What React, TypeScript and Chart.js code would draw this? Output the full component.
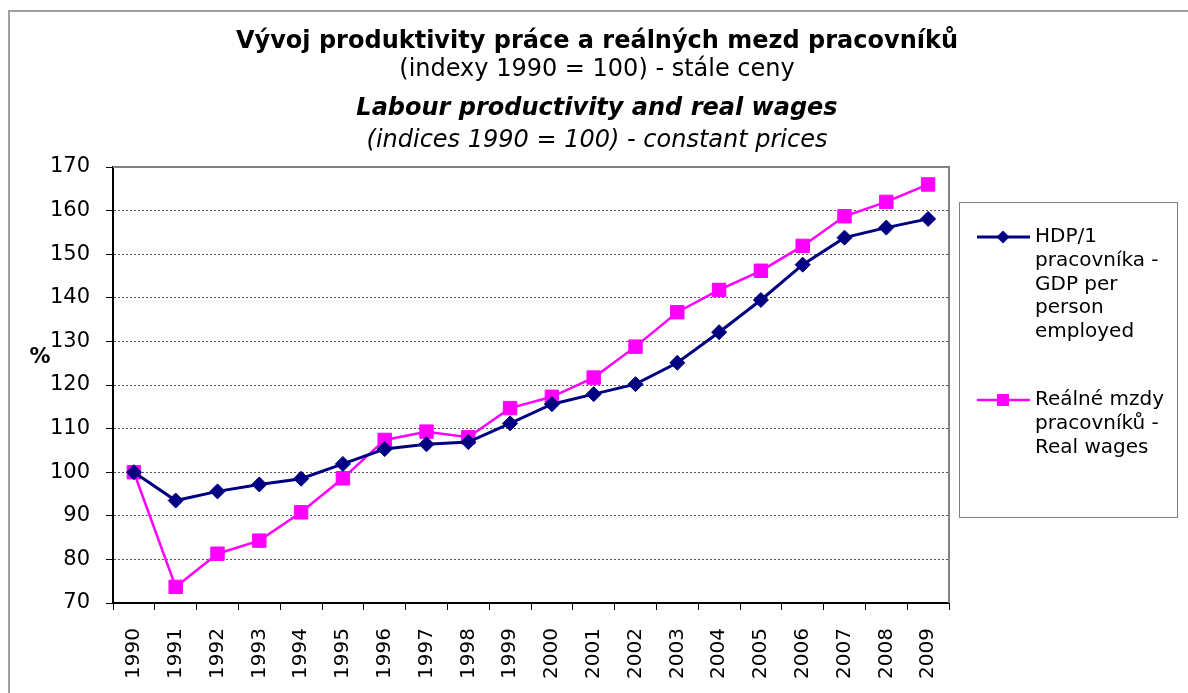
import React, { useEffect, useRef } from "react";
import { Chart, registerables } from "chart.js";

Chart.register(...registerables);

const years = ["1990", "1991", "1992", "1993", "1994", "1995", "1996", "1997", "1998", "1999", "2000", "2001", "2002", "2003", "2004", "2005", "2006", "2007", "2008", "2009"];
const gdpPerWorker = [100, 93.5, 95.6, 97.2, 98.5, 101.9, 105.3, 106.4, 106.9, 111.2, 115.6, 117.9, 120.2, 125.1, 132.1, 139.5, 147.6, 153.8, 156.1, 158.1];
const realWages = [100, 73.7, 81.3, 84.3, 90.8, 98.6, 107.4, 109.3, 108.0, 114.7, 117.3, 121.7, 128.8, 136.7, 141.8, 146.2, 151.9, 158.7, 162.0, 166.0];

const titleLines = [
  "Vývoj produktivity práce a reálných mezd pracovníků",
  "(indexy 1990 = 100) - stále ceny",
  "Labour productivity and real wages",
  "(indices 1990 = 100) - constant prices",
];
const legendGdp = ["HDP/1", "pracovníka -", "GDP per", "person", "employed"];
const legendWages = ["Reálné mzdy", "pracovníků -", "Real wages"];
const yAxisTitle = "%";

const FONT = '"DejaVu Sans", Verdana, sans-serif';
const NAVY = "#000080";
const MAGENTA = "#FF00FF";

const decorPlugin = {
  id: "decor",
  beforeDraw(chart: any) {
    const ctx = chart.ctx;
    ctx.save();
    ctx.fillStyle = "#ffffff";
    ctx.fillRect(0, 0, chart.width, chart.height);
    ctx.restore();
  },
  afterDraw(chart: any) {
    const ctx = chart.ctx;
    const a = chart.chartArea;
    ctx.save();
    // outer chart border
    ctx.strokeStyle = "#a0a0a0";
    ctx.lineWidth = 2;
    ctx.beginPath();
    ctx.moveTo(9, chart.height);
    ctx.lineTo(9, 11);
    ctx.lineTo(chart.width, 11);
    ctx.stroke();

    // plot area border top & right
    ctx.strokeStyle = "#808080";
    ctx.lineWidth = 2;
    ctx.beginPath();
    ctx.moveTo(a.left, a.top);
    ctx.lineTo(a.right, a.top);
    ctx.lineTo(a.right, a.bottom);
    ctx.stroke();

    // titles
    ctx.fillStyle = "#000";
    ctx.textAlign = "center";
    ctx.textBaseline = "middle";
    const cx = 597;
    const fonts = [`bold 24px ${FONT}`, `24px ${FONT}`, `italic bold 24px ${FONT}`, `italic 24px ${FONT}`];
    const ys = [42, 70, 109, 141];
    titleLines.forEach((t, i) => {
      ctx.font = fonts[i];
      ctx.fillText(t, cx, ys[i]);
    });

    // y axis title
    ctx.font = `bold 21px ${FONT}`;
    ctx.fillText(yAxisTitle, 40, 358);

    // legend box
    ctx.strokeStyle = "#808080";
    ctx.lineWidth = 1;
    ctx.strokeRect(959.5, 202.5, 218, 315);

    const entries = [
      { lines: legendGdp, y: 237, color: NAVY, width: 3, shape: "diamond" },
      { lines: legendWages, y: 400, color: MAGENTA, width: 2.5, shape: "square" },
    ];
    entries.forEach((e) => {
      ctx.strokeStyle = e.color;
      ctx.lineWidth = e.width;
      ctx.beginPath();
      ctx.moveTo(977, e.y);
      ctx.lineTo(1030, e.y);
      ctx.stroke();
      ctx.fillStyle = e.color;
      const mx = 1003;
      ctx.beginPath();
      if (e.shape === "diamond") {
        ctx.moveTo(mx, e.y - 6.5);
        ctx.lineTo(mx + 6.5, e.y);
        ctx.lineTo(mx, e.y + 6.5);
        ctx.lineTo(mx - 6.5, e.y);
        ctx.closePath();
      } else {
        ctx.rect(mx - 6, e.y - 6, 12, 12);
      }
      ctx.fill();
      ctx.fillStyle = "#000";
      ctx.textAlign = "left";
      ctx.font = `20px ${FONT}`;
      e.lines.forEach((l, i) => ctx.fillText(l, 1035, e.y + i * 23.7));
    });
    ctx.restore();
  },
};

export default function App() {
  const canvasRef = useRef<HTMLCanvasElement | null>(null);

  useEffect(() => {
    if (!canvasRef.current) return;
    const chart = new Chart(canvasRef.current, {
      type: "line",
      data: {
        labels: years,
        datasets: [
          {
            label: "HDP/1 pracovníka - GDP per person employed",
            data: gdpPerWorker,
            borderColor: NAVY,
            backgroundColor: NAVY,
            borderWidth: 3,
            pointStyle: "rectRot",
            pointRadius: 7.5,
            pointBorderWidth: 1,
            pointBackgroundColor: NAVY,
            pointBorderColor: NAVY,
            tension: 0,
          },
          {
            label: "Reálné mzdy pracovníků - Real wages",
            data: realWages,
            borderColor: MAGENTA,
            backgroundColor: MAGENTA,
            borderWidth: 2.5,
            pointStyle: "rect",
            pointRadius: 9.5,
            pointBorderWidth: 1,
            pointBackgroundColor: MAGENTA,
            pointBorderColor: MAGENTA,
            tension: 0,
          },
        ],
      },
      options: {
        responsive: false,
        animation: false,
        devicePixelRatio: 1,
        layout: { padding: { left: 0, top: 167, right: 239, bottom: 0 } },
        plugins: {
          legend: { display: false },
          title: { display: false },
          tooltip: { enabled: false },
        },
        scales: {
          x: {
            type: "category",
            offset: true,
            grid: {
              display: true,
              offset: true,
              drawOnChartArea: false,
              drawTicks: true,
              tickLength: 7,
              tickColor: "#000",
              tickWidth: 1,
            },
            border: { display: true, color: "#000", width: 2 },
            ticks: {
              minRotation: 90,
              maxRotation: 90,
              autoSkip: false,
              padding: 18,
              color: "#000",
              font: { family: FONT, size: 20 },
            },
            afterFit(scale: any) {
              scale.height = 90;
            },
          },
          y: {
            min: 70,
            max: 170,
            ticks: {
              stepSize: 10,
              padding: 16,
              color: "#000",
              font: { family: FONT, size: 21 },
            },
            grid: {
              color: "#555",
              lineWidth: 1,
              drawTicks: true,
              tickLength: 7,
              tickColor: "#000",
              tickBorderDash: [],
              tickWidth: 1,
            },
            border: { display: true, color: "#000", width: 2, dash: [2, 2] },
            afterFit(scale: any) {
              scale.width = 113;
            },
          },
        },
      },
      plugins: [decorPlugin],
    } as any);
    return () => chart.destroy();
  }, []);

  return (
    <div style={{ position: "fixed", left: 0, top: 0, width: 1188, height: 693, background: "#fff" }}>
      <canvas ref={canvasRef} width={1188} height={693} style={{ width: 1188, height: 693, display: "block" }} />
    </div>
  );
}
